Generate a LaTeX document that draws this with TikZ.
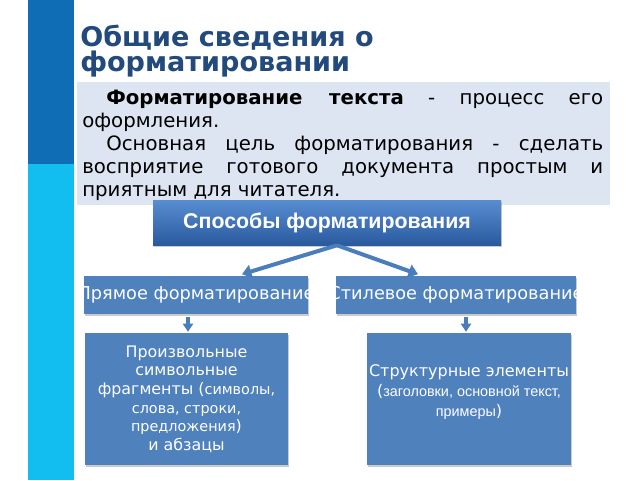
\documentclass[tikz,border=0pt]{standalone}
\usepackage{fontspec}
\setmainfont{DejaVu Sans}
\newfontfamily\arialf{Liberation Sans}
\usetikzlibrary{arrows.meta,calc,shadows}
\definecolor{barDark}{RGB}{14,109,181}
\definecolor{barLight}{RGB}{18,190,240}
\definecolor{titleBlue}{RGB}{35,74,125}
\definecolor{panel}{RGB}{220,229,241}
\definecolor{boxBlue}{RGB}{79,129,189}
\definecolor{arrowBlue}{RGB}{74,126,187}
\definecolor{gradTop}{RGB}{88,141,210}
\definecolor{gradBot}{RGB}{42,90,158}
\begin{document}
\begin{tikzpicture}[x=0.75pt,y=-0.75pt,
  shad/.style={drop shadow={shadow xshift=0.8pt, shadow yshift=-1.5pt, fill=black!45, opacity=0.45}},
  box/.style={rectangle, fill=boxBlue, text=white, inner sep=0pt, align=center, shad},
  arr/.style={draw=arrowBlue, line width=3pt, -{Triangle[length=7pt,width=10pt]}},
  arrsmall/.style={draw=arrowBlue, line width=2.4pt, -{Triangle[length=6pt,width=7.5pt]}}
]
\useasboundingbox (0,0) rectangle (640,480);
% decorative bars
\fill[barDark] (28,0) rectangle (74,164);
\fill[barLight] (28,164) rectangle (74,480);
% title
\node (title) [anchor=base west, inner sep=0pt, text=titleBlue] at (80,46.7)
  {\parbox[t]{320pt}{\fontsize{20.3}{18.75}\selectfont\bfseries Общие сведения о\\форматировании}};
% definition panel
\node (panel) [rectangle, fill=panel, inner sep=0pt, minimum width=399.75pt, minimum height=92.25pt] at (343.5,143.5) {};
\node (body) [anchor=base west, inner sep=0pt] at (82,104)
  {\parbox[t]{390.75pt}{\fontsize{14.8}{17.4}\selectfont
   \hspace*{18pt}\textbf{Форматирование текста} - процесс его\linebreak оформления.\par
   \hspace*{18pt}Основная цель форматирования - сделать\linebreak восприятие готового документа простым и\linebreak приятным для читателя.}};
% main box
\node (sp) [rectangle, minimum width=261pt, minimum height=33.75pt, inner sep=0pt,
  top color=gradTop, bottom color=gradBot, text=white, shad,
  font=\arialf\bfseries\fontsize{16}{19}\selectfont] at (327,222.5) {Способы форматирования};
% second level (text overflows the boxes, as in the original)
\node (pr) [box, minimum width=168pt, minimum height=28.5pt, font=\fontsize{13.3}{15}\selectfont] at (196,295) {\makebox[0pt]{Прямое форматирование}};
\node (st) [box, minimum width=180pt, minimum height=28.5pt, font=\fontsize{13.3}{15}\selectfont] at (456,295) {\makebox[0pt]{Стилевое форматирование}};
% third level
\node (a) [box, minimum width=152.25pt, minimum height=99pt, font=\fontsize{11.9}{14}\selectfont] at (186.5,399)
  {Произвольные\\символьные\\фрагменты ({\fontsize{10.8}{14}\selectfont символы,}\\{\fontsize{10.8}{14}\selectfont слова, строки,}\\{\fontsize{10.8}{14}\selectfont предложения})\\и абзацы};
\node (b) [box, minimum width=153pt, minimum height=99pt] at (469,399) {};
\node (btext) [inner sep=0pt, text=white, align=center, font=\fontsize{12}{15}\selectfont] at (469,392)
  {Структурные элементы\\({\arialf\fontsize{10.8}{15}\selectfont заголовки, основной текст,}\\{\arialf\fontsize{10.8}{15}\selectfont примеры})};
% connectors
\draw[arr] ($(sp.south)+(10,0)$) -- ($(pr.north)+(46,-1.5)$);
\draw[arr] ($(sp.south)+(10,0)$) -- ($(st.north)+(-38,-1.5)$);
\draw[arrsmall] ($(a.north |- pr.south)+(1.5,2.5)$) -- ($(a.north)+(1.5,-1)$);
\draw[arrsmall] ($(b.north |- st.south)+(-3,2.5)$) -- ($(b.north)+(-3,-1)$);
\end{tikzpicture}
\end{document}
